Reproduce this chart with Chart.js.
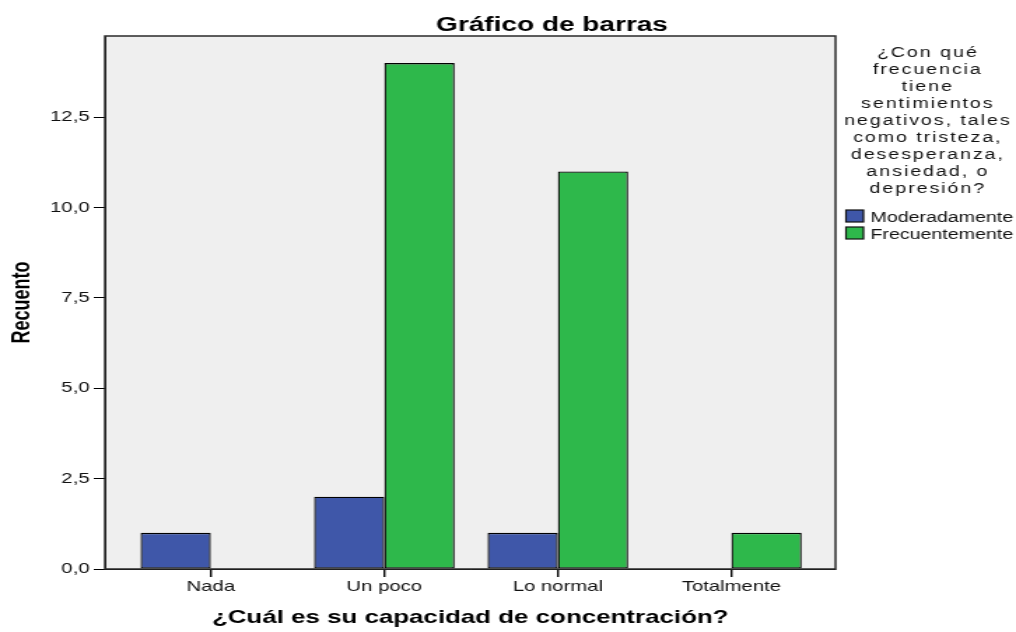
<!DOCTYPE html>
<html>
<head>
<meta charset="utf-8">
<script src="https://cdn.jsdelivr.net/npm/chart.js@4/dist/chart.umd.min.js"></script>
<style>
  html, body { margin: 0; padding: 0; background: #fff; overflow: hidden; }
  /* the original SPSS image is stretched sideways, so we stretch the canvas too */
  #chart { display: block; transform: scaleX(1.39945); transform-origin: 0 0; }
</style>
</head>
<body>
<canvas id="chart" width="726" height="632"></canvas>
<script>
const categories = ['Nada', 'Un poco', 'Lo normal', 'Totalmente'];
const moderadamente = [1, 2, 1, null];
const frecuentemente = [null, 14, 11, 1];
const yTickValues = [0, 2.5, 5, 7.5, 10, 12.5];
const seriesNames = ['Moderadamente', 'Frecuentemente'];
const legendTitle = ['¿Con qué', 'frecuencia', 'tiene', 'sentimientos', 'negativos, tales',
  'como tristeza,', 'desesperanza,', 'ansiedad, o', 'depresión?'];
const chartTitle = 'Gráfico de barras';

const FONT = '"Liberation Sans", Arial, sans-serif';
Chart.defaults.font.family = FONT;
Chart.defaults.color = '#111';

// plot background, frame, title and legend
const decor = {
  id: 'decor',
  beforeDraw(chart) {
    const { ctx, chartArea: a } = chart;
    ctx.save();
    ctx.fillStyle = '#efefef';
    ctx.fillRect(a.left, a.top, a.right - a.left, a.bottom - a.top);
    ctx.restore();
  },
  afterDraw(chart) {
    const { ctx, chartArea: a } = chart;
    ctx.save();
    ctx.strokeStyle = '#2a2a2a';
    ctx.lineWidth = 1.5;
    ctx.strokeRect(a.left, a.top, a.right - a.left, a.bottom - a.top);

    ctx.fillStyle = '#000';
    ctx.font = 'bold 20px ' + FONT;
    ctx.textAlign = 'center';
    ctx.textBaseline = 'alphabetic';
    ctx.fillText(chartTitle, 394.4, 31);

    ctx.font = '14px ' + FONT;
    ctx.fillStyle = '#111';
    ctx.letterSpacing = '1.4px';
    legendTitle.forEach((line, i) => ctx.fillText(line, 663, 57 + i * 17));
    ctx.letterSpacing = '0px';

    ctx.textAlign = 'left';
    chart.data.datasets.forEach((ds, i) => {
      const y = 210 + i * 17;
      ctx.fillStyle = ds.backgroundColor;
      ctx.fillRect(604.5, y, 12.5, 12);
      ctx.strokeStyle = '#111';
      ctx.lineWidth = 1.2;
      ctx.strokeRect(604.5, y, 12.5, 12);
      ctx.fillStyle = '#111';
      ctx.fillText(ds.label, 622, y + 12);
    });
    ctx.restore();
  }
};

const ctx = document.getElementById('chart').getContext('2d');
const myChart = new Chart(ctx, {
  type: 'bar',
  data: {
    datasets: [{
      label: seriesNames[0],
      data: categories.map((c, i) => ({ x: i, y: moderadamente[i] })),
      backgroundColor: '#3f57a9',
      borderColor: '#000',
      borderWidth: 1.3,
      borderSkipped: false
    }, {
      label: seriesNames[1],
      data: categories.map((c, i) => ({ x: i, y: frecuentemente[i] })),
      backgroundColor: '#2eb84b',
      borderColor: '#000',
      borderWidth: 1.3,
      borderSkipped: false
    }]
  },
  options: {
    responsive: false,
    animation: false,
    devicePixelRatio: 1,
    categoryPercentage: 0.81,
    barPercentage: 1.0,
    layout: { padding: { top: 36, right: 129, left: 0, bottom: 0 } },
    plugins: {
      legend: { display: false },
      title: { display: false },
      tooltip: { enabled: false }
    },
    scales: {
      x: {
        type: 'linear',
        min: -0.61,
        max: 3.6,
        offset: false,
        afterBuildTicks: s => { s.ticks = categories.map((c, i) => ({ value: i })); },
        afterFit: s => { s.height = 63; },
        ticks: {
          callback: v => categories[v],
          font: { size: 14.5 },
          color: '#111',
          padding: 1,
          maxRotation: 0,
          autoSkip: false
        },
        grid: { offset: false, drawOnChartArea: false, drawTicks: true, tickLength: 8, color: '#000', lineWidth: 1.4 },
        border: { display: true, color: '#000' },
        title: {
          display: true,
          text: '¿Cuál es su capacidad de concentración?',
          font: { size: 18.5, weight: 'bold', lineHeight: 1.2 },
          color: '#000',
          padding: { top: 0, bottom: 3 }
        }
      },
      y: {
        min: 0,
        max: 14.75,
        afterBuildTicks: s => { s.ticks = yTickValues.map(v => ({ value: v })); },
        afterFit: s => { s.width = 75; },
        ticks: {
          callback: v => v.toFixed(1).replace('.', ','),
          font: { size: 14.5 },
          color: '#111',
          padding: 3
        },
        grid: { drawOnChartArea: false, drawTicks: true, tickLength: 8, color: '#000' },
        border: { display: true, color: '#000' },
        title: {
          display: true,
          text: 'Recuento',
          font: { size: 18, weight: 'bold', lineHeight: 1.2 },
          color: '#000',
          padding: { top: 5, bottom: 0 }
        }
      }
    }
  },
  plugins: [decor]
});
</script>
</body>
</html>
